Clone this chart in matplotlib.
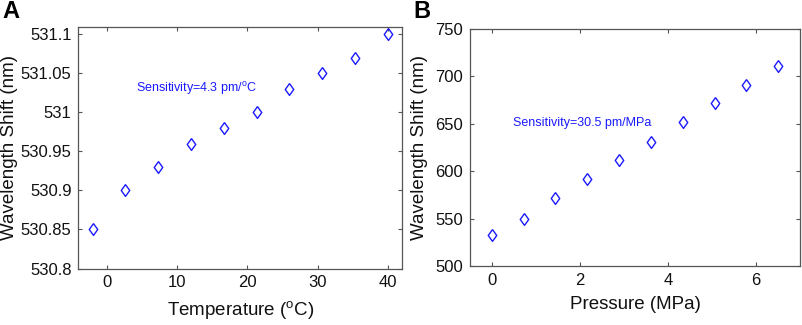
import matplotlib
matplotlib.use("Agg")
import matplotlib.pyplot as plt

plt.rcParams['font.family'] = ['Liberation Sans', 'DejaVu Sans']

temp = [-2.0, 2.67, 7.33, 12.0, 16.67, 21.33, 26.0, 30.67, 35.33, 40.0]
shift_t = [530.85, 530.90, 530.93, 530.96, 530.98, 531.00, 531.03, 531.05, 531.07, 531.10]

press = [0.0, 0.72, 1.44, 2.17, 2.89, 3.61, 4.33, 5.06, 5.78, 6.5]
shift_p = [533, 550, 572, 592, 612, 631, 652, 672, 691, 711]

t_ticks = [0, 10, 20, 30, 40]
t_yticks = [530.8, 530.85, 530.9, 530.95, 531.0, 531.05, 531.1]
t_ylabels = ['530.8', '530.85', '530.9', '530.95', '531', '531.05', '531.1']
p_ticks = [0, 2, 4, 6]
p_yticks = [500, 550, 600, 650, 700, 750]

W, H = 803, 325
fig = plt.figure(figsize=(W / 100, H / 100), dpi=100)

def ax_at(l, t, r, b):
    return fig.add_axes([l / W, 1 - b / H, (r - l) / W, (b - t) / H])

axA = ax_at(78.5, 26.5, 402, 268.5)
axB = ax_at(470, 29, 800, 266)

diamond = [(0, 1), (0.72, 0), (0, -1), (-0.72, 0), (0, 1)]
edge = '#555555'
blue = '#1a1aff'
for ax in (axA, axB):
    for s in ax.spines.values():
        s.set_color(edge)
        s.set_linewidth(0.9)
    ax.tick_params(direction='in', length=3, width=0.8, color=edge,
                   top=True, right=True, labelsize=12, pad=5,
                   labelcolor='#111111')

axA.plot(temp, shift_t, linestyle='none', marker=diamond, markersize=8.5,
         markerfacecolor='none', markeredgecolor=blue, markeredgewidth=1.0)
axA.set_xlim(-4, 42)
axA.set_ylim(530.8, 531.11)
axA.set_xticks(t_ticks)
axA.set_yticks(t_yticks)
axA.set_yticklabels(t_ylabels)
axA.set_xlabel('Temperature ($\\mathregular{^{o}}$C)', fontsize=13.5, color='#111111', labelpad=6)
axA.set_ylabel('Wavelength Shift (nm)', fontsize=13.5, color='#111111')
axA.yaxis.set_label_coords(-60.5 / 323.5, 0.5)
axA.text(0.178, 0.745, 'Sensitivity=4.3 pm/$\\mathregular{^{o}}$C', transform=axA.transAxes,
         color=blue, fontsize=9, ha='left', va='center')

axB.plot(press, shift_p, linestyle='none', marker=diamond, markersize=8.5,
         markerfacecolor='none', markeredgecolor=blue, markeredgewidth=1.0)
axB.set_xlim(-0.5, 7)
axB.set_ylim(500, 750)
axB.set_xticks(p_ticks)
axB.set_yticks(p_yticks)
axB.set_xlabel('Pressure (MPa)', fontsize=13.5, color='#111111', labelpad=6)
axB.set_ylabel('Wavelength Shift (nm)', fontsize=13.5, color='#111111')
axB.yaxis.set_label_coords(-42 / 330, 0.5)
axB.text(0.13, 0.605, 'Sensitivity=30.5 pm/MPa', transform=axB.transAxes,
         color=blue, fontsize=9, ha='left', va='center')

fig.text(2 / W, 1 - 12 / H, 'A', fontsize=17, fontweight='bold', ha='left', va='center')
fig.text(413 / W, 1 - 12 / H, 'B', fontsize=17, fontweight='bold', ha='left', va='center')

fig.savefig('out.png', dpi=100)
